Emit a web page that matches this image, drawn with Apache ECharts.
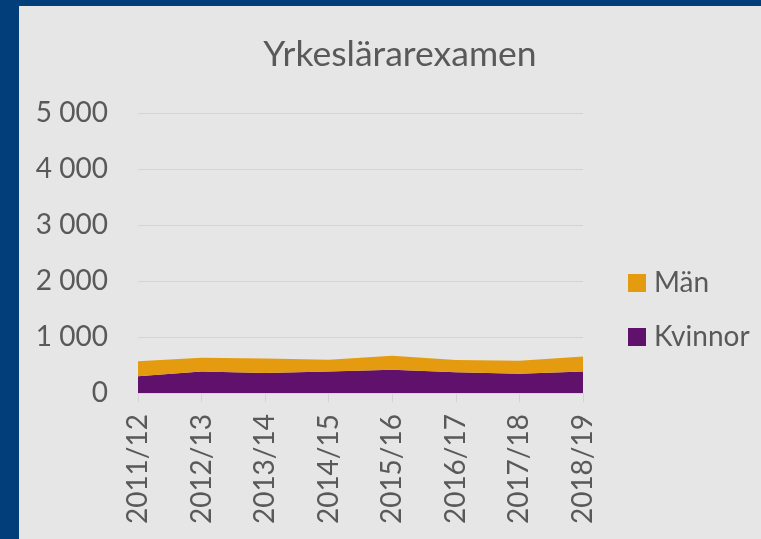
<!DOCTYPE html>
<html><head><meta charset="utf-8">
<script src="https://cdn.jsdelivr.net/npm/echarts@6/dist/echarts.min.js"></script>
<style>
html,body{margin:0;padding:0;background:#023e7a;}
#wrap{position:absolute;left:19px;top:6px;width:742px;height:533px;background:#e6e6e6;}
#c{width:742px;height:533px;}
</style></head>
<body><div id="wrap"><div id="c"></div></div>
<script>
var categories = ['2011/12','2012/13','2013/14','2014/15','2015/16','2016/17','2017/18','2018/19'];
var kvinnor = [300, 385, 355, 385, 415, 370, 345, 385];
var man = [265, 245, 262, 210, 250, 220, 232, 268];
var yTicks = [0, 1000, 2000, 3000, 4000, 5000];

var chart = echarts.init(document.getElementById('c'));
var font = 'Lato, "Open Sans", sans-serif';
chart.setOption({
  backgroundColor: '#e6e6e6',
  animation: false,
  textStyle: {fontFamily: font},
  title: {text: 'Yrkeslärarexamen', left: 376, top: 26, textAlign: 'center',
    textStyle: {fontFamily: font, fontSize: 35.5, fontWeight: 'normal', color: '#595959'}},
  legend: {orient: 'vertical', left: 604, top: 258, itemWidth: 18, itemHeight: 18, itemGap: 26,
    data: [{name: 'Män', icon: 'rect'}, {name: 'Kvinnor', icon: 'rect'}],
    textStyle: {fontFamily: font, fontSize: 28, color: '#595959', padding: [0,0,0,3]}},
  grid: {left: 119, top: 107, width: 445, height: 280, containLabel: false},
  xAxis: {type: 'category', data: categories, boundaryGap: false,
    axisLine: {lineStyle: {color: '#d4d4d4', width: 1}},
    axisTick: {show: true, length: 9, lineStyle: {color: '#d4d4d4'}},
    axisLabel: {rotate: 90, fontSize: 28, color: '#595959', margin: 21, fontFamily: font}},
  yAxis: {type: 'value', min: 0, max: 5000, interval: 1000,
    axisLine: {show: false}, axisTick: {show: false},
    splitLine: {lineStyle: {color: '#d4d4d4', width: 1}},
    axisLabel: {fontSize: 28, color: '#595959', margin: 30, fontFamily: font,
      formatter: function(v){ return yTicks.indexOf(v) >= 0 ? String(v).replace(/\B(?=(\d{3})+(?!\d))/g, ' ') : ''; }}},
  series: [
    {name: 'Kvinnor', type: 'line', stack: 'a', data: kvinnor, symbol: 'none',
      lineStyle: {width: 0}, areaStyle: {color: '#5f116b', opacity: 1}, itemStyle: {color: '#5f116b'}},
    {name: 'Män', type: 'line', stack: 'a', data: man, symbol: 'none',
      lineStyle: {width: 0}, areaStyle: {color: '#e49b0f', opacity: 1}, itemStyle: {color: '#e49b0f'}}
  ]
});
</script></body></html>
